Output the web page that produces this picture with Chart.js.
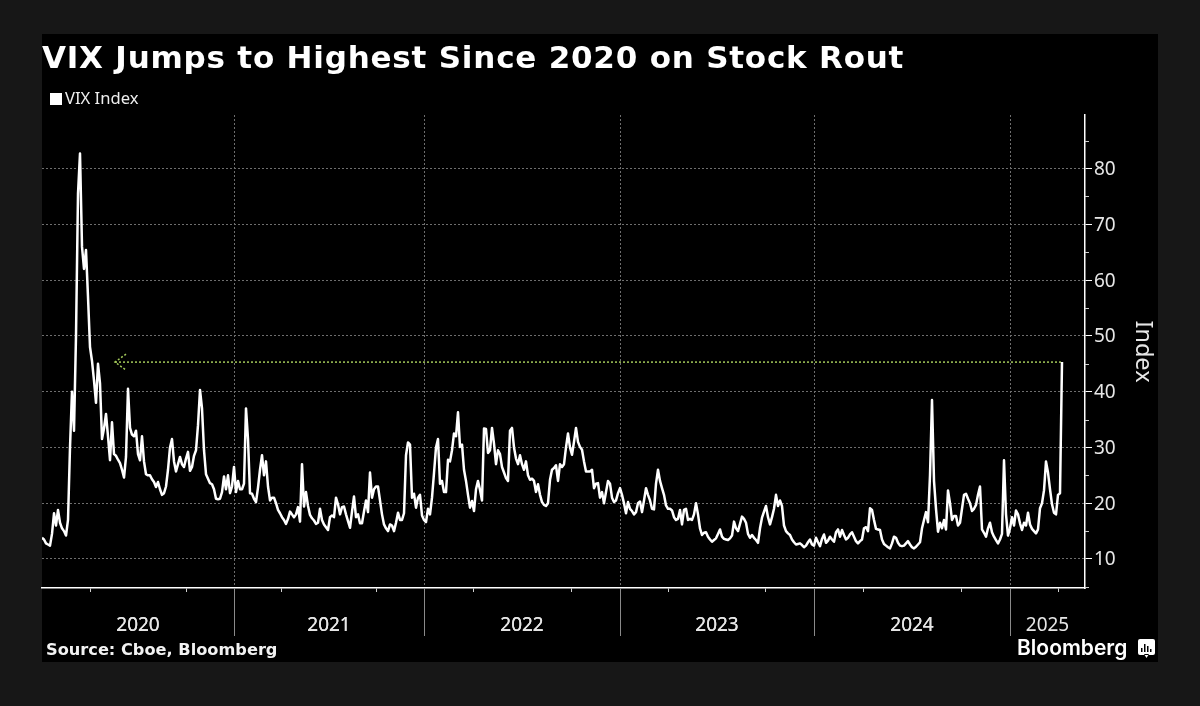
<!DOCTYPE html>
<html>
<head>
<meta charset="utf-8">
<title>VIX Index</title>
<script src="https://cdn.jsdelivr.net/npm/chart.js@4"></script>
<style>
    html, body { margin: 0; padding: 0; background: #171717; }
    canvas { display: block; }
</style>
</head>
<body>
<canvas id="vixChart" width="1200" height="706"></canvas>
<script>
// Closing levels, one sample about every 3.8 calendar days
const vix2020 = [
    13.8, 13.5, 12.8, 12.6, 12.4, 14.5, 18.2, 16, 18.8, 16.5,
    15.5, 15, 14.2, 17, 30, 40, 33, 50, 75.5, 82.7,
    66, 62, 65.4, 57, 48, 45.5, 42, 38, 45, 41.5,
    31.5, 33.4, 36, 32, 27.7, 34.5, 28.8, 28.5, 27.8, 27.2,
    26, 24.6, 28.3, 40.5, 33.5, 32.3, 32, 33, 28.8, 27.7,
    32, 27.5, 25.2, 25, 25, 24.3, 23.8, 22.9, 23.8, 22.5,
    21.5, 21.8, 23, 26, 30, 31.5, 27.5, 25.7, 27, 28.3,
    27, 26.5, 28, 29.2, 25.8, 26.5, 28.5, 29.5, 34, 40.3,
    37, 29.5, 25.2, 24.4, 23.6, 23.4, 22.5, 20.8, 20.7, 20.8,
    22, 24.8, 22.5, 25, 21.8, 23
];
const vix2021 = [
    26.5, 22, 24, 22.5,
    22.5, 23.5, 37, 31.5, 21.8, 21.7, 20.8, 20.2, 22.8, 26,
    28.6, 25, 27.5, 23, 20.5, 21, 21, 20, 18.8, 18.2,
    17.5, 17, 16.3, 17.2, 18.5, 18, 17.5, 18, 19.3, 16.7,
    27, 19.4, 22, 19.5, 17.9, 17.3, 16.9, 16.3, 16.5, 19,
    17, 16.2, 15.7, 15.2, 17.5, 17.8, 17.5, 21, 19.8, 18,
    19.3, 19.4, 18, 16.8, 15.6, 18.5, 21.2, 17.5, 18, 16.4,
    16.4, 18.5, 20.5, 18.4, 25.5, 21, 22.5, 23, 23, 20.5,
    18, 16.2, 15.5, 15, 16.2, 16, 15, 16.5, 18.3, 17,
    17, 18.2, 28.6, 30.9, 30.5, 21, 21.7, 19.2, 21, 21.5,
    17.8
];
const vix2022 = [
    17, 16.6, 19, 18, 21, 25.4, 30, 31.5, 23.5,
    24, 22, 22, 27.8, 27.5, 29.5, 32.5, 32, 36.3, 30.1,
    30.5, 26, 24, 21.5, 19.2, 20.4, 18.6, 22.5, 24, 22.4,
    20.5, 33.4, 33.3, 29, 29.5, 33.5, 30.7, 27, 29.5, 28.8,
    26.5, 25.5, 24.5, 24, 33, 33.5, 30, 28, 27, 28.6,
    27, 26, 27.5, 25, 24.2, 24.4, 24, 22, 23.4, 21.5,
    20.2, 19.7, 19.5, 20, 24.2, 26, 26.3, 26.8, 24, 27,
    26.5, 27, 30, 32.5, 30, 28.7, 31, 33.5, 31, 30.1,
    29.6, 27.5, 25.7, 25.7, 25.7, 26, 22.7, 23.5, 23.6, 21,
    22, 20, 22, 24, 23.5, 21, 20.2, 20.5, 21.8
];
const vix2023 = [
    22.7,
    21.5, 20, 18.2, 20.2, 19, 18.6, 18, 18.4, 20, 20.3,
    18.4, 20.5, 22.7, 21.5, 20.5, 19, 18.9, 23.5, 26, 24,
    22.7, 21.5, 19.6, 19, 19, 18.7, 17.5, 17, 17.2, 18.8,
    16.2, 18.8, 19, 17, 17.2, 17, 18, 20, 18, 15.5,
    14.3, 14.7, 14.8, 14, 13.5, 13.1, 13.4, 13.7, 14.5, 15.3,
    14, 13.6, 13.5, 13.4, 13.7, 14.2, 16.7, 15.5, 15, 16.3,
    17.6, 17.2, 16.5, 14.5, 13.8, 14.3, 13.8, 13.4, 12.9, 15.5,
    17.4, 18.5, 19.5, 17.5, 16.2, 17.5, 19, 21.5, 19.5, 20.5,
    19.5, 16, 15, 14.6, 14.3, 13.5, 13, 12.6, 12.7, 12.8,
    12.5, 12.1, 12.4, 13, 13.5, 12.6
];
const vix2024 = [
    12.4, 13.8, 13, 12.3,
    13.6, 14.4, 12.9, 13.3, 14, 13.5, 13.1, 14.8, 15.3, 14,
    15.2, 14.3, 13.5, 13.8, 14.4, 14.8, 14, 13.2, 12.8, 13.2,
    13.5, 15.5, 15.7, 15, 19.1, 18.8, 17, 15.4, 15.3, 15.2,
    13.5, 12.7, 12.4, 12.1, 11.9, 12.8, 14, 13.8, 12.9, 12.4,
    12.3, 12.4, 12.8, 13.2, 12.6, 12.1, 11.9, 12.2, 12.6, 13,
    15.5, 17, 18.4, 16.6, 25, 38.5, 24, 19, 14.9, 16.5,
    15.5, 17, 15.3, 22.3, 20, 17, 17.7, 17.7, 16, 16.5,
    19, 21.5, 21.7, 20.8, 20, 18.6, 19, 19.7, 21.5, 23,
    15.3, 14.7, 14, 15.5, 16.5, 14.8, 14, 13.4, 12.8, 13.5,
    14.5, 27.7, 18, 14.2
];
const vix2025 = [
    15.5, 17.5, 16, 18.7, 18, 16.4,
    15.2, 16.5, 16, 18.3, 16.2, 15.4, 15, 14.6, 15.3, 19.1,
    20, 22.3, 27.5, 25.5, 22.5, 19.8, 18.3, 18, 21.5, 21.8,
    45.3
];

const yearLabels = ['2020', '2021', '2022', '2023', '2024', '2025'];
const yearSeries = [vix2020, vix2021, vix2022, vix2023, vix2024, vix2025];
const labelledLevels = [10, 20, 30, 40, 50, 60, 70, 80];
const minorLevels = [5, 15, 25, 35, 45, 55, 65, 75, 85];
const latestClose = vix2025[vix2025.length - 1];

const vixValues = yearSeries.flat();
const axisEnd = 521.5;
const quarterSteps = 24.4;

// Sample index where each calendar year begins
const yearBreaks = [];
let runningCount = 0;
yearSeries.slice(0, -1).forEach(series => {
    runningCount += series.length;
    yearBreaks.push(runningCount);
});

const yearEdges = [0, ...yearBreaks, axisEnd];
const yearCentres = yearLabels.map((_, i) => (yearEdges[i] + yearEdges[i + 1]) / 2);

const quarterTicks = [];
yearEdges.slice(0, -2).forEach((start, i) => {
    const span = yearEdges[i + 1] - start;
    quarterTicks.push(start + span / 4, start + span / 2, start + span * 3 / 4);
});
quarterTicks.push(yearBreaks[yearBreaks.length - 1] + quarterSteps);

const xTickValues = [...quarterTicks, ...yearBreaks, ...yearCentres].sort((a, b) => a - b);

// Panel, headline, year separators, minor ticks, arrow, legend key, source and logo
const chartDecor = {
    id: 'chartDecor',
    beforeDraw(chart) {
        const ctx = chart.ctx;
        ctx.save();
        ctx.fillStyle = '#171717';
        ctx.fillRect(0, 0, chart.width, chart.height);
        ctx.fillStyle = '#000000';
        ctx.fillRect(42, 34, 1116, 628);

        ctx.font = 'bold 31px "DejaVu Sans"';
        ctx.letterSpacing = '0.78px';
        ctx.textBaseline = 'middle';
        ctx.fillStyle = '#ffffff';
        ctx.fillText('VIX Jumps to Highest Since 2020 on Stock Rout', 42, 59.5);
        ctx.restore();
    },
    afterDatasetsDraw(chart) {
        const ctx = chart.ctx;
        const xScale = chart.scales.x;
        const yScale = chart.scales.y;
        const area = chart.chartArea;
        ctx.save();

        // year separators below the axis
        ctx.strokeStyle = '#8a8a8a';
        ctx.lineWidth = 1;
        yearBreaks.forEach(value => {
            const px = Math.round(xScale.getPixelForValue(value)) + 0.5;
            ctx.beginPath();
            ctx.moveTo(px, area.bottom);
            ctx.lineTo(px, 636);
            ctx.stroke();
        });

        // short ticks between the labelled levels
        ctx.strokeStyle = '#cfcfcf';
        ctx.lineWidth = 1;
        minorLevels.forEach(value => {
            const py = Math.round(yScale.getPixelForValue(value)) + 0.5;
            ctx.beginPath();
            ctx.moveTo(area.right, py);
            ctx.lineTo(area.right + 4, py);
            ctx.stroke();
        });

        // open arrow head on the left end of the level line
        const tipX = xScale.getPixelForValue(chart.data.datasets[1].data[0].x);
        const tipY = yScale.getPixelForValue(latestClose);
        ctx.strokeStyle = '#a3c95a';
        ctx.lineWidth = 1.5;
        ctx.setLineDash([2, 2]);
        ctx.beginPath();
        ctx.moveTo(tipX + 11, tipY - 8);
        ctx.lineTo(tipX, tipY);
        ctx.lineTo(tipX + 11, tipY + 8);
        ctx.stroke();
        ctx.setLineDash([]);

        // legend key
        ctx.fillStyle = '#ffffff';
        ctx.fillRect(50, 93, 12, 12);
        ctx.font = '16.6px "Noto Sans"';
        ctx.textBaseline = 'middle';
        ctx.textAlign = 'left';
        ctx.fillStyle = '#eeeeee';
        ctx.fillText('VIX Index', 65, 99);

        // source line
        ctx.font = 'bold 16.2px "DejaVu Sans"';
        ctx.fillStyle = '#f2f2f2';
        ctx.fillText('Source: Cboe, Bloomberg', 46, 651);

        // wordmark and icon
        ctx.font = '600 21px Inter';
        ctx.fillStyle = '#ffffff';
        ctx.fillText('Bloomberg', 1017, 649);

        ctx.beginPath();
        ctx.roundRect(1138, 639, 17, 16, 2);
        ctx.moveTo(1144, 654);
        ctx.lineTo(1146.5, 658);
        ctx.lineTo(1149, 654);
        ctx.fill();
        ctx.fillStyle = '#000000';
        ctx.fillRect(1141, 648, 1.5, 4);
        ctx.fillRect(1144, 644, 1.5, 8);
        ctx.fillRect(1147, 646, 1.5, 6);
        ctx.fillRect(1150, 649, 1.5, 3);

        ctx.restore();
    }
};

const vixChart = new Chart(document.getElementById('vixChart'), {
    type: 'line',
    data: {
        datasets: [
            {
                label: 'VIX Index',
                data: vixValues.map((v, i) => ({ x: i, y: v })),
                borderColor: '#ffffff',
                borderWidth: 2.5,
                borderJoinStyle: 'round',
                pointRadius: 0,
                tension: 0,
                order: 1
            },
            {
                label: 'Latest close',
                data: [
                    { x: 36.5, y: latestClose },
                    { x: vixValues.length - 1, y: latestClose }
                ],
                borderColor: '#a3c95a',
                borderWidth: 1.5,
                borderDash: [2, 2],
                pointRadius: 0,
                order: 2
            }
        ]
    },
    options: {
        responsive: false,
        animation: false,
        layout: { padding: { left: 42, top: 115, right: 0, bottom: 0 } },
        plugins: {
            legend: { display: false },
            tooltip: { enabled: false }
        },
        scales: {
            x: {
                type: 'linear',
                min: 0,
                max: axisEnd,
                afterBuildTicks: scale => {
                    scale.ticks = xTickValues.map(value => ({ value }));
                },
                afterFit: scale => { scale.height = 118; },
                border: { color: '#ffffff', width: 1.5, dash: [2, 2] },
                grid: {
                    tickLength: 4,
                    lineWidth: 1,
                    color: ctx => yearBreaks.includes(ctx.tick.value) ? '#6e6e6e' : 'transparent',
                    tickColor: ctx => yearCentres.includes(ctx.tick.value) ? 'transparent' : '#cfcfcf'
                },
                ticks: {
                    autoSkip: false,
                    maxRotation: 0,
                    padding: 22,
                    color: '#e6e6e6',
                    font: { family: '"Noto Sans"', size: 19 },
                    callback: value => {
                        const idx = yearCentres.indexOf(value);
                        return idx >= 0 ? yearLabels[idx] : '';
                    }
                }
            },
            y: {
                position: 'right',
                min: 4.8,
                max: 89.6,
                afterBuildTicks: scale => {
                    scale.ticks = labelledLevels.map(value => ({ value }));
                },
                afterFit: scale => { scale.width = 115; },
                border: { color: '#ffffff', width: 1.5, dash: [2, 2] },
                grid: {
                    tickLength: 7,
                    lineWidth: 1,
                    color: '#6e6e6e',
                    tickColor: '#ffffff'
                },
                ticks: {
                    padding: 2,
                    labelOffset: 1,
                    color: '#e6e6e6',
                    font: { family: '"Noto Sans"', size: 19 }
                },
                title: {
                    display: true,
                    text: 'Index',
                    color: '#e6e6e6',
                    font: { family: '"Noto Sans"', size: 23.5 },
                    padding: { top: 43, bottom: 0 }
                }
            }
        }
    },
    plugins: [chartDecor]
});
</script>
</body>
</html>
